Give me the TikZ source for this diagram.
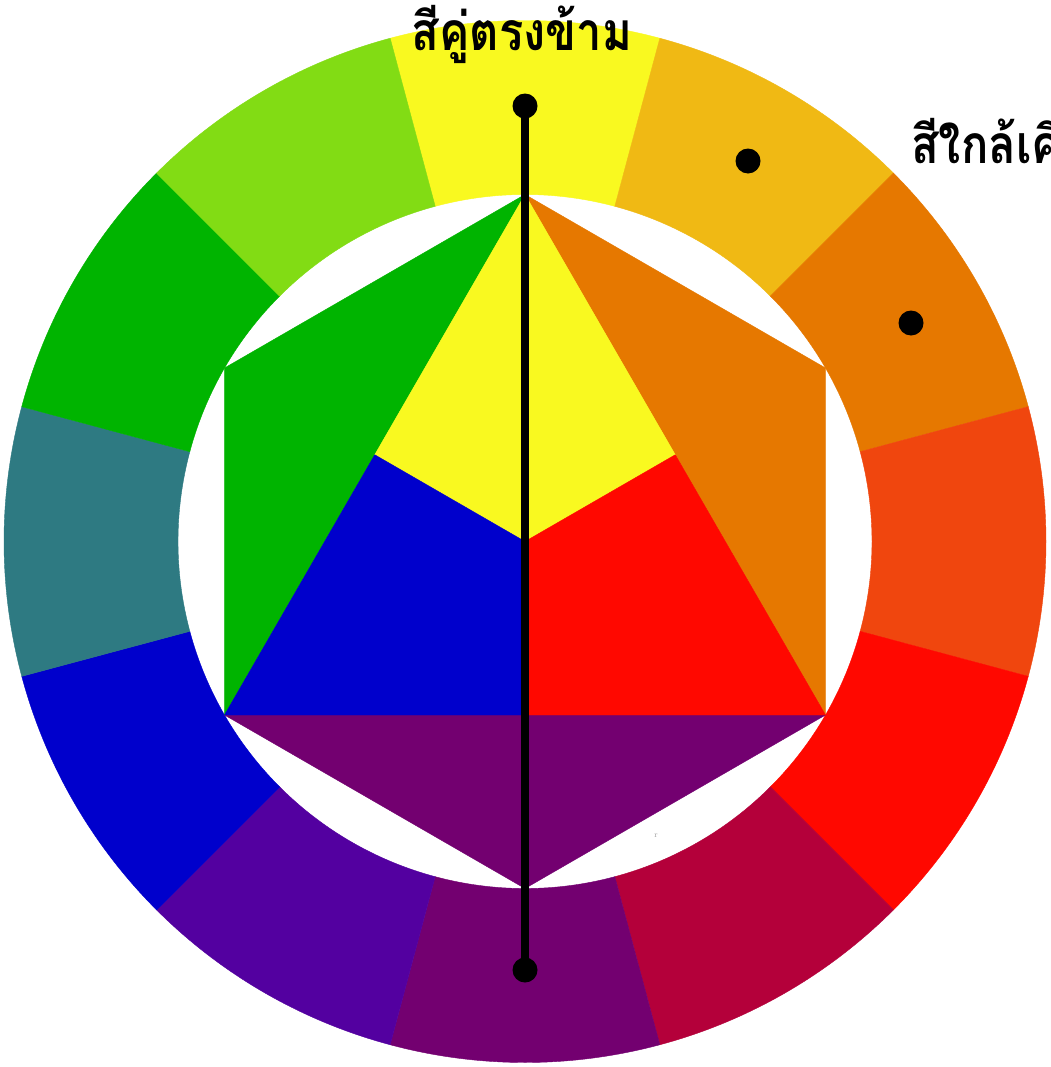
\documentclass[tikz,border=0pt]{standalone}
\usepackage{fontspec}
\newfontfamily\thaifont[Script=Thai]{Loma}
\definecolor{cY}{HTML}{F9F920}
\definecolor{cYO}{HTML}{F0B914}
\definecolor{cO}{HTML}{E67800}
\definecolor{cRO}{HTML}{F0460E}
\definecolor{cR}{HTML}{FF0800}
\definecolor{cRV}{HTML}{B4003A}
\definecolor{cV}{HTML}{730070}
\definecolor{cBV}{HTML}{5300A0}
\definecolor{cB}{HTML}{0000CC}
\definecolor{cBG}{HTML}{2E7A82}
\definecolor{cG}{HTML}{00B400}
\definecolor{cYG}{HTML}{82DC14}
\tikzset{
  dotmark/.style={circle,fill=black,inner sep=0pt,minimum size=25*0.75pt},
  label/.style={font=\thaifont\bfseries\fontsize{40}{44}\selectfont,inner sep=0pt},
}
\begin{document}
\begin{tikzpicture}[x=0.75pt,y=-0.75pt]
\useasboundingbox (0,0) rectangle (1050,1067);
\fill[white] (0,0) rectangle (1050,1067);
\begin{scope}[shift={(525,541.5)}]
  \def\Ro{521}\def\Ri{347}
  \foreach \a/\c in {270/cY,300/cYO,330/cO,0/cRO,30/cR,60/cRV,90/cV,120/cBV,150/cB,180/cBG,210/cG,240/cYG}{
    \fill[\c,draw=\c,line width=0.3pt] (\a-15:\Ro) arc[start angle=\a-15,end angle=\a+15,radius=\Ro]
      -- (\a+15:\Ri) arc[start angle=\a+15,end angle=\a-15,radius=\Ri] -- cycle;
  }
  \coordinate (T) at (270:\Ri);
  \coordinate (UR) at (330:\Ri);
  \coordinate (LR) at (30:\Ri);
  \coordinate (Bt) at (90:\Ri);
  \coordinate (LL) at (150:\Ri);
  \coordinate (UL) at (210:\Ri);
  \coordinate (M1) at (210:173.5);
  \coordinate (M2) at (330:173.5);
  \coordinate (M3) at (90:173.5);
  \coordinate (O) at (0,0);
  \fill[cG,draw=cG,line width=0.3pt] (T) -- (UL) -- (LL) -- cycle;
  \fill[cO,draw=cO,line width=0.3pt] (T) -- (UR) -- (LR) -- cycle;
  \fill[cV,draw=cV,line width=0.3pt] (LL) -- (LR) -- (Bt) -- cycle;
  \fill[cY,draw=cY,line width=0.3pt] (T) -- (M1) -- (O) -- (M2) -- cycle;
  \fill[cR,draw=cR,line width=0.3pt] (M2) -- (LR) -- (M3) -- (O) -- cycle;
  \fill[cB,draw=cB,line width=0.3pt] (M1) -- (O) -- (M3) -- (LL) -- cycle;
\end{scope}
\node[font=\fontsize{6}{7}\selectfont,text=black!35,inner sep=0pt] (r) at (656,836) {r};
\node[dotmark] (top) at (525,106) {};
\node[dotmark] (bot) at (525,970) {};
\draw[line width=6pt] (top.center) -- (bot.center);
\node[dotmark] (d1) at (748,161) {};
\node[dotmark] (d2) at (911,323) {};
\node[label,anchor=base] (t1) at (522,50) {\scalebox{0.85}[1]{สีคู่ตรงข้าม}};
\node[label,anchor=base west] (t2) at (911,163) {\scalebox{0.85}[1]{สีใกล้เคียง}};
\end{tikzpicture}
\end{document}
